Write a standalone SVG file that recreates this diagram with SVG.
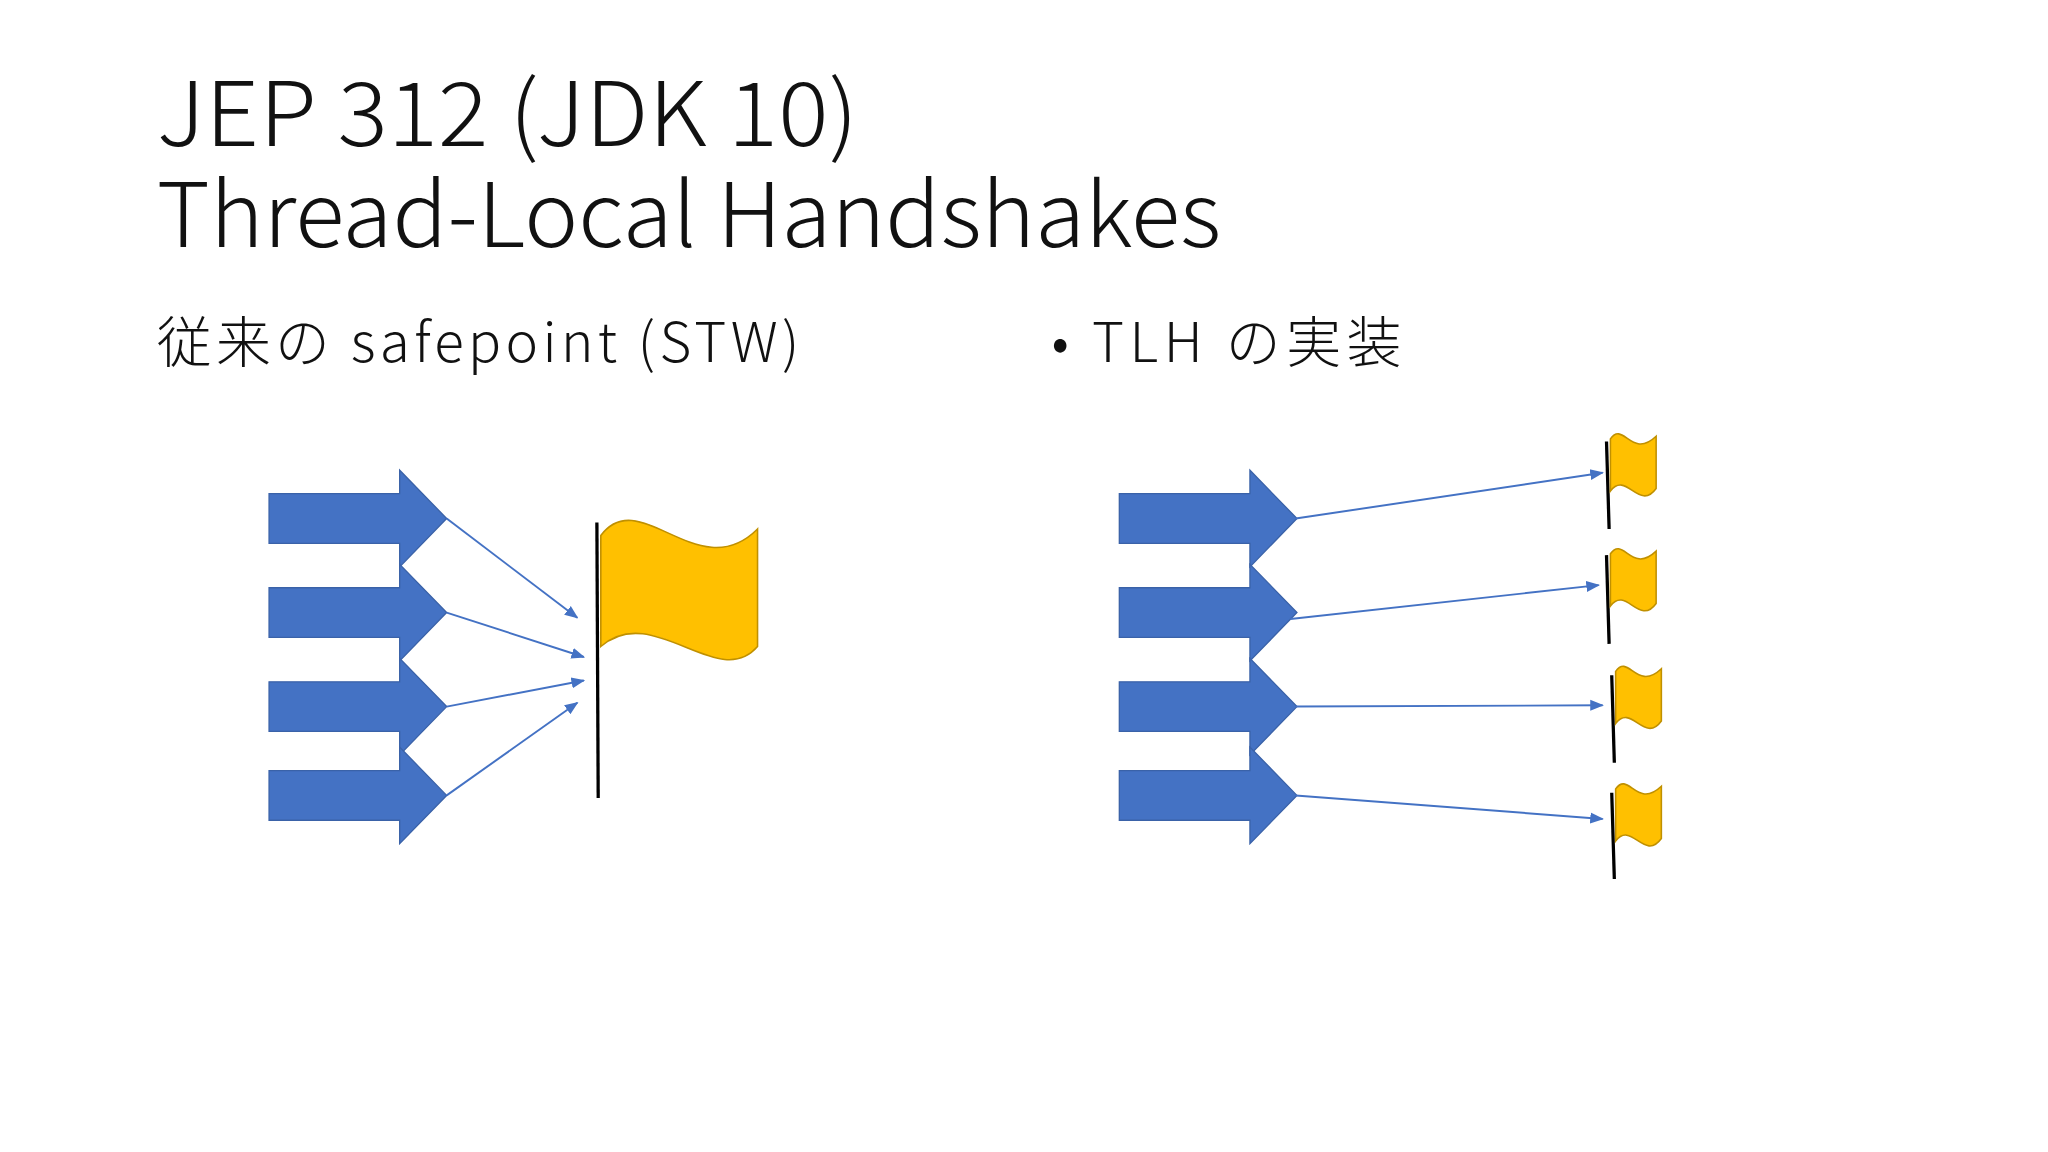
<svg xmlns="http://www.w3.org/2000/svg" width="2048" height="1152" viewBox="0 0 2048 1152">
<defs>
<marker id="ah" viewBox="0 0 10 10" refX="9" refY="5" markerWidth="7" markerHeight="7" orient="auto"><path d="M0,1 L10,5 L0,9 Z" fill="#4472C4"/></marker>
<path id="barrow" d="M0,-19 L100,-19 L100,-37 L136,0 L100,37 L100,19 L0,19 Z"/>
<path id="flag" d="M0,6 C10,-8 16,22 35,4 L35,44 C22,62 12,30 0,46 Z"/>
</defs>
<style>
.t{font-family:"Noto Sans CJK JP","Noto Sans",sans-serif;font-weight:300;fill:#111}
.arr{fill:#4472C4;stroke:#3A62A8;stroke-width:1}
.ln{stroke:#4472C4;stroke-width:1.5;fill:none;marker-end:url(#ah)}
.pole{stroke:#000;stroke-width:2.5}
.fl{fill:#FFC000;stroke:#C09000;stroke-width:1.2}
</style>
<rect width="2048" height="1152" fill="#fff"/>
<g transform="scale(1.3061)">
<g id="title"><text class="t" x="120" y="112" font-size="68" textLength="537" lengthAdjust="spacingAndGlyphs">JEP 312 (JDK 10)</text>
<text class="t" x="120" y="189" font-size="68" textLength="815" lengthAdjust="spacingAndGlyphs">Thread-Local Handshakes</text></g>
<g id="sub1"><text class="t" x="120" y="277" font-size="42" textLength="492" lengthAdjust="spacing">従来の safepoint (STW)</text></g>
<g id="sub2"><text class="t" x="805" y="277" font-size="42" textLength="268" lengthAdjust="spacing">• TLH の実装</text></g>
<g id="left-arrows">
<use href="#barrow" class="arr" x="206" y="397"/><use href="#barrow" class="arr" x="206" y="469"/>
<use href="#barrow" class="arr" x="206" y="541"/><use href="#barrow" class="arr" x="206" y="609"/>
</g>
<g id="right-arrows">
<use href="#barrow" class="arr" x="857" y="397"/><use href="#barrow" class="arr" x="857" y="469"/>
<use href="#barrow" class="arr" x="857" y="541"/><use href="#barrow" class="arr" x="857" y="609"/>
</g>
<g id="big-flag">
<line class="pole" x1="457" y1="400" x2="458" y2="611"/>
<path class="fl" d="M460,410 C490,370 535,450 580,405 L580,495 C550,530 500,460 460,495 Z"/>
</g>
<g id="small-flags">
<line class="pole" x1="1230" y1="338" x2="1232" y2="405"/><use href="#flag" class="fl" x="1233" y="330"/>
<line class="pole" x1="1230" y1="425" x2="1232" y2="493"/><use href="#flag" class="fl" x="1233" y="418"/>
<line class="pole" x1="1234" y1="517" x2="1236" y2="584"/><use href="#flag" class="fl" x="1237" y="508"/>
<line class="pole" x1="1234" y1="607" x2="1236" y2="673"/><use href="#flag" class="fl" x="1237" y="598"/>
</g>
<g id="connectors">
<line class="ln" x1="342" y1="397" x2="442" y2="473"/>
<line class="ln" x1="342" y1="469" x2="447" y2="503"/>
<line class="ln" x1="342" y1="541" x2="447" y2="521"/>
<line class="ln" x1="342" y1="609" x2="442" y2="538"/>
<line class="ln" x1="992" y1="397" x2="1227" y2="362"/>
<line class="ln" x1="988" y1="474" x2="1224" y2="448"/>
<line class="ln" x1="992" y1="541" x2="1227" y2="540"/>
<line class="ln" x1="992" y1="609" x2="1227" y2="627"/>
</g>
</g>
</svg>
